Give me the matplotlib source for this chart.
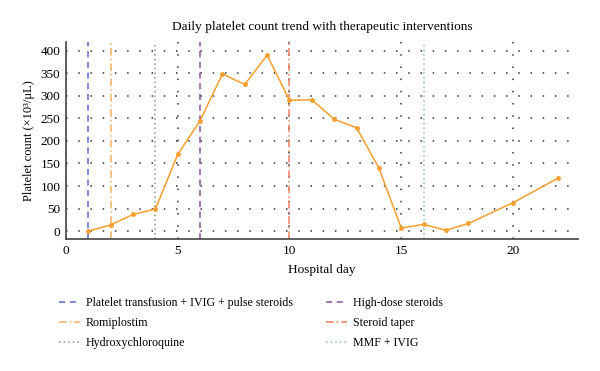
import matplotlib.pyplot as plt

plt.rcParams["font.family"] = ["Liberation Serif", "DejaVu Serif"]

days = [1, 2, 3, 4, 5, 6, 7, 8, 9, 10, 11, 12, 13, 14, 15, 16, 17, 18, 20, 22]
platelets = [0, 14, 37, 49, 170, 245, 348, 325, 390, 290, 291, 248, 229, 140, 7, 15, 2, 17, 63, 117]

event_days = [1, 2, 4, 6, 10, 16]
event_labels = [
    "Platelet transfusion + IVIG + pulse steroids",
    "Romiplostim",
    "Hydroxychloroquine",
    "High-dose steroids",
    "Steroid taper",
    "MMF + IVIG",
]
event_colors = ["#5a6ad0", "#f5b060", "#8c9a80", "#9050a0", "#f08060", "#88c0b0"]
event_styles = [(0, (4, 3)), (0, (5, 2, 1, 2)), (0, (1, 2)), (0, (4, 3)), (0, (5, 2, 1, 2)), (0, (1, 2))]

fig = plt.figure(figsize=(6, 3.71), dpi=100)
ax = fig.add_axes([0.11, 0.355, 0.853, 0.533])

for d, lab, c, ls in zip(event_days, event_labels, event_colors, event_styles):
    ax.axvline(d, color=c, linestyle=ls, linewidth=1.1, label=lab, zorder=2)

ax.plot(days, platelets, color="#f5a030", linewidth=1.1, marker="o", markersize=2.5, zorder=3)

ax.set_xlim(0, 22.9)
ax.set_ylim(-18, 420)
ax.set_xticks([0, 5, 10, 15, 20])
ax.set_yticks(range(0, 401, 50))
ax.grid(True, color="#333333", linestyle=(0, (1, 7)), linewidth=1.1)
ax.tick_params(length=0, labelsize=9.5, pad=4)
for s in ["top", "right"]:
    ax.spines[s].set_visible(False)
for s in ["left", "bottom"]:
    ax.spines[s].set_color("#444444")
    ax.spines[s].set_linewidth(1.2)

ax.set_title("Daily platelet count trend with therapeutic interventions", fontsize=9.6, pad=8)
ax.set_xlabel("Hospital day", fontsize=9.5, labelpad=5)
ax.set_ylabel("Platelet count (×10³/μL)", fontsize=9, labelpad=4)

leg = fig.legend(loc="upper left", ncol=2, frameon=False,
                 fontsize=8.6, handlelength=1.75, handletextpad=0.5,
                 columnspacing=2.8, labelspacing=0.68)
leg.set_bbox_to_anchor((0.08, 0.228), transform=fig.transFigure)

fig.savefig("out.png", dpi=100)
